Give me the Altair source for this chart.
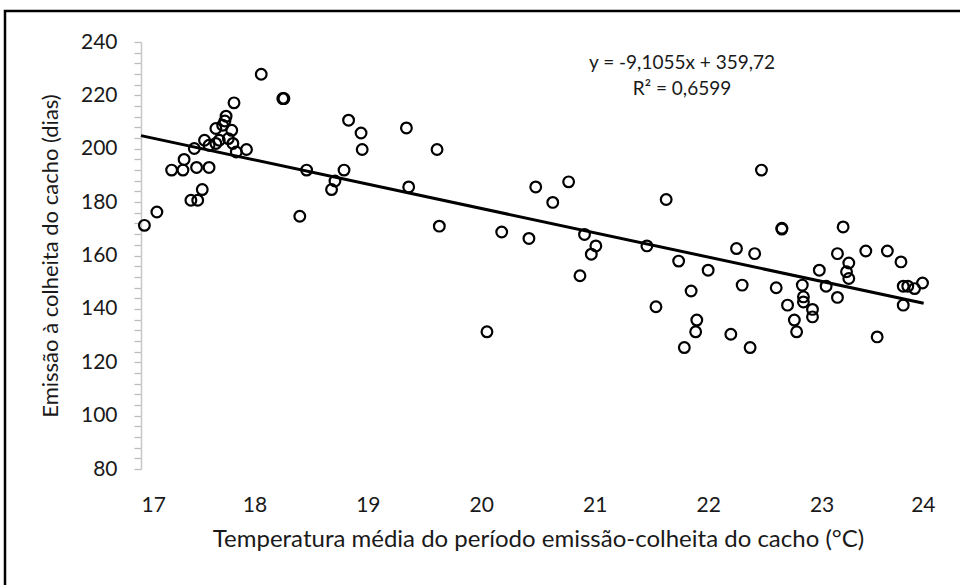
import altair as alt
import pandas as pd

temperatura = [17.03, 17.14, 17.27, 17.37, 17.38, 17.44, 17.50, 17.54, 17.49, 17.60,
               17.47, 17.56, 17.60, 17.66, 17.69, 17.66, 17.72, 17.74, 17.75, 17.77,
               17.80, 17.81, 17.82, 17.84, 17.93, 18.06, 18.25, 18.26, 18.40, 18.46,
               18.79, 18.71, 18.68, 18.83, 18.94, 18.95, 19.34, 19.36, 19.61, 19.63,
               20.05, 20.18, 20.42, 20.48, 20.63, 20.77, 20.87, 20.91, 20.97, 21.01,
               21.46, 21.54, 21.63, 21.74, 21.79, 21.85, 21.89, 21.90, 22.00, 22.20,
               22.25, 22.30, 22.37, 22.41, 22.47, 22.60, 22.65, 22.65, 22.70, 22.76,
               22.78, 22.83, 22.84, 22.84, 22.92, 22.92, 22.98, 23.04, 23.14, 23.14,
               23.19, 23.22, 23.24, 23.24, 23.39, 23.49, 23.58, 23.70, 23.72, 23.72,
               23.76, 23.82, 23.89]
dias = [171.3, 176.3, 192.0, 192.0, 196.0, 180.7, 180.7, 184.7, 193.0, 193.0,
        200.1, 203.2, 201.3, 202.0, 203.2, 207.6, 208.8, 210.4, 212.2, 203.8,
        206.9, 202.0, 217.2, 198.8, 199.7, 227.9, 218.8, 218.8, 174.7, 192.0,
        192.0, 187.9, 184.7, 210.7, 205.9, 199.7, 207.8, 185.7, 199.7, 171.0,
        131.4, 168.8, 166.4, 185.7, 179.9, 187.6, 152.4, 167.9, 160.5, 163.6,
        163.6, 140.8, 181.0, 157.9, 125.5, 146.7, 131.4, 135.8, 154.5, 130.5,
        162.6, 148.9, 125.5, 160.7, 192.0, 147.9, 169.9, 170.2, 141.4, 135.8,
        131.4, 148.9, 144.5, 142.6, 139.8, 137.0, 154.5, 148.5, 144.3, 160.7,
        170.7, 153.9, 157.2, 151.4, 161.7, 129.5, 161.7, 157.6, 148.5, 141.4,
        148.5, 147.6, 149.7]

linha_x = [17.0, 23.9]
linha_y = [204.93, 142.12]

eq_textos = ["y = -9,1055x + 359,72", "R² = 0,6599"]
eq_x = [21.77, 21.77]
eq_y = [232.2, 222.4]

y_ticks = list(range(80, 241, 4))
y_labels = list(range(80, 241, 20))
x_labels = list(range(17, 25))

FONT = "Lato"
TXT = "#1a1a1a"

pts = pd.DataFrame({"t": temperatura, "d": dias})
lin = pd.DataFrame({"t": linha_x, "d": linha_y})
eq = pd.DataFrame({"txt": eq_textos, "t": eq_x, "d": eq_y})

xscale = alt.Scale(domain=[17, 24], nice=False, zero=False)
yscale = alt.Scale(domain=[80, 240], nice=False, zero=False)

xaxis = alt.Axis(values=x_labels, format="d", domain=False, ticks=False,
                 tickSize=0, grid=False, labelPadding=25, labelFontSize=21,
                 labelFont=FONT, labelColor=TXT, labelOverlap=False,
                 title="Temperatura média do período emissão-colheita do cacho (°C)",
                 titleFont=FONT, titleFontSize=24, titleFontWeight="normal",
                 titleColor=TXT, titlePadding=12)

label_test = "indexof([" + ",".join(str(v) for v in y_labels) + "], datum.value) >= 0"
yaxis = alt.Axis(values=y_ticks, format="d",
                 labelExpr=label_test + " ? datum.label : ''",
                 labelOverlap=False, labelBound=False, labelFlush=False,
                 domain=True, domainColor="#c8c8c8", domainWidth=1.5,
                 ticks=True, tickColor="#bdbdbd", tickSize=7, tickWidth=1.3,
                 grid=False, labelPadding=17, labelFontSize=21, labelFont=FONT,
                 labelColor=TXT,
                 title="Emissão à colheita do cacho (dias)", titleFont=FONT,
                 titleFontSize=22, titleFontWeight="normal", titleColor=TXT,
                 titlePadding=18)

X = alt.X("t:Q", scale=xscale, axis=xaxis)
Y = alt.Y("d:Q", scale=yscale, axis=yaxis)

pontos = alt.Chart(pts).mark_point(shape="circle", filled=False, size=115,
                                   stroke="black", strokeWidth=2.2, opacity=1).encode(
    x=X, y=Y)

linha = alt.Chart(lin).mark_line(color="black", strokeWidth=3).encode(x=X, y=Y)

texto = alt.Chart(eq).mark_text(font=FONT, fontSize=19, color=TXT).encode(
    x=X, y=Y, text="txt:N")

moldura = alt.Chart(pd.DataFrame({"a": [0]})).mark_rect(
    filled=False, stroke="black", strokeWidth=2.5).encode(
    x=alt.value(-136), x2=alt.value(830), y=alt.value(-31), y2=alt.value(555)
)

chart = alt.layer(pontos, linha, texto, moldura).properties(
    width=794, height=427,
    autosize=alt.AutoSizeParams(type="none"),
    padding={"left": 141, "top": 42, "right": 25, "bottom": 116},
    background="white",
).configure_view(stroke=None)

chart.save("out.html", embed_options={"renderer": "svg", "actions": False})
